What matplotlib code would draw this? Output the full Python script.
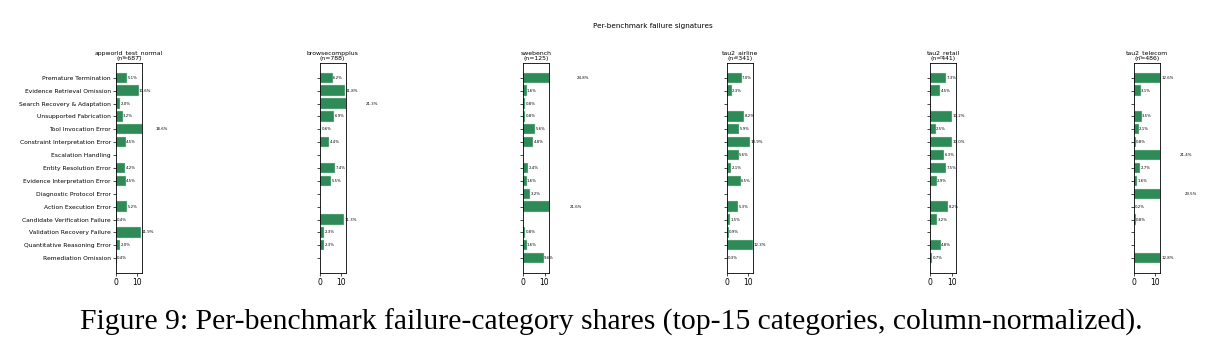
import matplotlib
matplotlib.use("Agg")
import matplotlib.pyplot as plt

## categories (top-15, order top -> bottom)
categories = [
    "Premature Termination",
    "Evidence Retrieval Omission",
    "Search Recovery & Adaptation",
    "Unsupported Fabrication",
    "Tool Invocation Error",
    "Constraint Interpretation Error",
    "Escalation Handling",
    "Entity Resolution Error",
    "Evidence Interpretation Error",
    "Diagnostic Protocol Error",
    "Action Execution Error",
    "Candidate Verification Failure",
    "Validation Recovery Failure",
    "Quantitative Reasoning Error",
    "Remediation Omission",
]

benchmarks = ["appworld_test_normal", "browsecompplus", "swebench",
              "tau2_airline", "tau2_retail", "tau2_telecom"]
n_counts = [687, 788, 125, 341, 441, 486]

## shares in %, same order as categories
appworld = [5.1, 10.6, 2.0, 3.2, 18.6, 4.5, 0.0, 4.2, 4.5, 0.0, 5.2, 0.4, 11.9, 2.0, 0.4]
browsecomp = [6.2, 11.8, 21.3, 6.9, 0.6, 4.4, 0.0, 7.4, 5.5, 0.0, 0.0, 11.3, 2.3, 2.3, 0.0]
swebench = [24.8, 1.6, 0.8, 0.8, 5.6, 4.8, 0.0, 2.4, 1.6, 3.2, 21.6, 0.0, 0.8, 1.6, 9.6]
airline = [7.0, 2.3, 0.0, 8.2, 5.9, 10.9, 5.6, 2.1, 6.5, 0.0, 5.3, 1.5, 0.9, 12.3, 0.3]
retail = [7.3, 4.5, 0.0, 10.2, 2.5, 10.0, 6.3, 7.5, 2.9, 0.0, 8.2, 3.2, 0.0, 4.8, 0.7]
telecom = [12.6, 3.1, 0.0, 3.5, 2.1, 0.8, 21.4, 2.7, 1.6, 23.5, 0.2, 0.8, 0.0, 0.0, 12.8]

shares = [appworld, browsecomp, swebench, airline, retail, telecom]

plt.rcParams.update({
    'font.family': 'DejaVu Sans',
    'axes.linewidth': 0.6,
    'xtick.major.width': 0.5,
    'ytick.major.width': 0.5,
    'xtick.major.size': 2,
    'ytick.major.size': 2,
    'xtick.labelsize': 5.5,
    'ytick.labelsize': 4.35,
})

fig, axes = plt.subplots(1, 6, figsize=(12.22, 3.54), dpi=100, sharey=True)
fig.subplots_adjust(left=0.0949, right=0.9493, bottom=0.229, top=0.822, wspace=6.83)

ypos = list(range(len(categories)))
for ax, name, n, vals in zip(axes, benchmarks, n_counts, shares):
    ax.barh(ypos, vals, height=0.8, color="#2e8b57", edgecolor="#c8e6d2", linewidth=0.3)
    for y, v in zip(ypos, vals):
        if v > 0:
            ax.text(v + 0.2, y, f"{v:.1f}%", va="center", ha="left", fontsize=2.8)
    ax.set_xlim(0, 12.2)
    ax.set_xticks([0, 10])
    ax.set_title(f"{name}\n(n={n})", fontsize=4.4, pad=2, linespacing=1.0)
    ax.tick_params(axis='x', pad=1.5)
    ax.tick_params(axis='y', pad=1.5)

axes[0].set_yticks(ypos)
axes[0].set_yticklabels(categories)
axes[0].invert_yaxis()

fig.suptitle("Per-benchmark failure signatures", fontsize=5.2, x=0.534, y=0.935)

fig.text(0.5, 0.088, "Figure 9: Per-benchmark failure-category shares (top-15 categories, column-normalized).",
         ha="center", va="center", fontsize=21.3, family="Liberation Serif")

fig.savefig("out.png", dpi=100)
